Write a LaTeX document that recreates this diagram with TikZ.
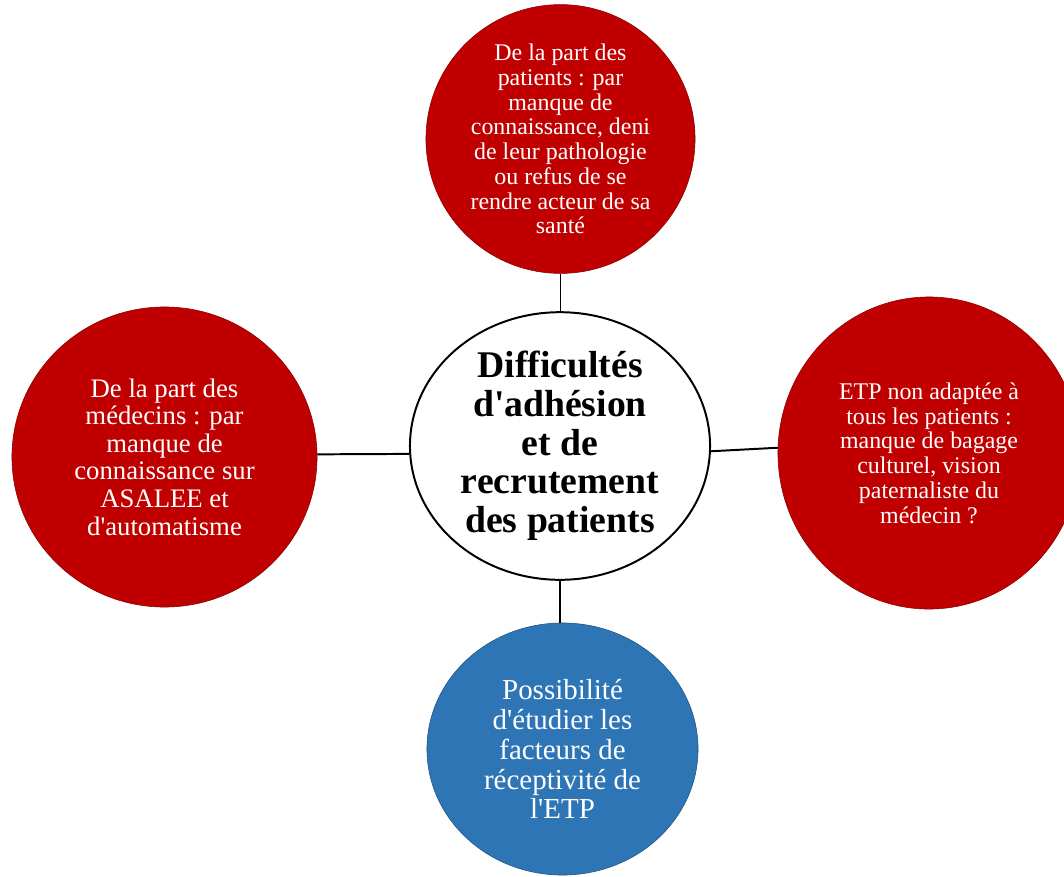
\documentclass[tikz,border=0pt]{standalone}
\usepackage{fontspec}
\setmainfont{Liberation Serif}
\usepackage{tikz}
\usetikzlibrary{shapes.geometric}

\definecolor{bubblered}{HTML}{C00000}
\definecolor{bubbleblue}{HTML}{2E75B6}

\begin{document}
\begin{tikzpicture}[x=0.025cm, y=-0.025cm,
  bubble/.style={ellipse, inner sep=0pt, align=center, text=white, line width=0.4pt},
  redbubble/.style={bubble, fill=bubblered, draw=bubblered!70!black},
  bluebubble/.style={bubble, fill=bubbleblue, draw=bubbleblue!70!black},
  link/.style={line width=1.4pt}]
\useasboundingbox (0,0) rectangle (1064,876);
\clip (0,0) rectangle (1064,876);

% Center
\node[ellipse, draw, line width=1.4pt, fill=white, inner sep=0pt, align=center,
  minimum width=7.5cm, minimum height=6.55cm,
  font=\fontsize{26.8}{27.5}\selectfont\bfseries] (center) at (560,446)
  {Difficultés\\d\textquotesingle adhésion\\et de\\recrutement\\des patients};

% Top
\node[redbubble, minimum width=6.725cm, minimum height=6.3cm,
  font=\fontsize{17}{17.6}\selectfont] (top) at (560.5,139)
  {De la part des\\patients : par\\manque de\\connaissance, deni\\de leur pathologie\\ou refus de se\\rendre acteur de sa\\santé};

% Left
\node[redbubble, minimum width=7.625cm, minimum height=7.5cm,
  font=\fontsize{19}{19.6}\selectfont] (left) at (164.5,457)
  {De la part des\\médecins : par\\manque de\\connaissance sur\\ASALEE et\\d\textquotesingle automatisme};

% Right
\node[redbubble, minimum width=7.55cm, minimum height=7.8cm,
  font=\fontsize{17}{17.6}\selectfont] (right) at (929,453)
  {ETP non adaptée à\\tous les patients :\\manque de bagage\\culturel, vision\\paternaliste du\\médecin ?};

% Bottom
\node[bluebubble, minimum width=6.775cm, minimum height=6.3cm,
  font=\fontsize{20.6}{21.3}\selectfont] (bottom) at (562.5,749)
  {Possibilité\\d\textquotesingle étudier les\\facteurs de\\réceptivité de\\l\textquotesingle ETP};

% Links
\draw[link] (top.south) -- (top.south |- center.north);
\draw[link] (left.1.5) -- (center.183);
\draw[link] (center.358) -- (right.178);
\draw[link] (center.south) -- (center.south |- bottom.north);
\end{tikzpicture}
\end{document}
